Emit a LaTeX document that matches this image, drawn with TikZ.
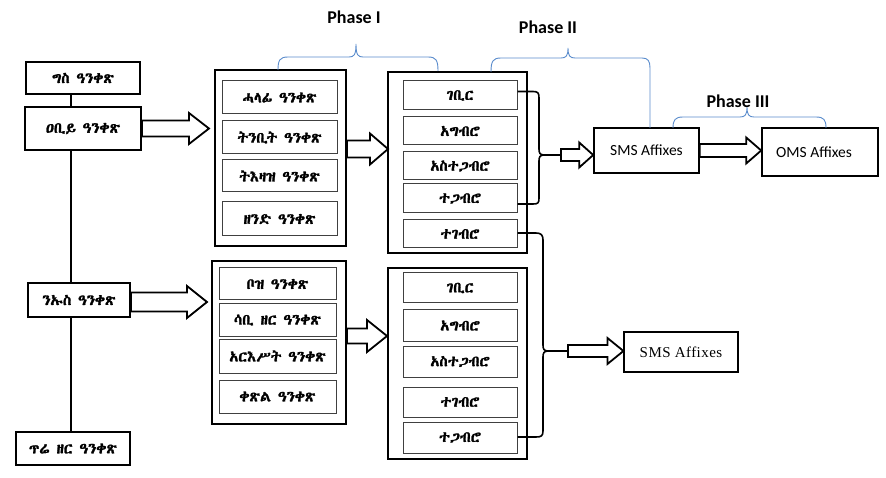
\documentclass[tikz,border=0pt]{standalone}
\usepackage{fontspec}
\setmainfont{Carlito}
\newfontfamily\serifaff{Liberation Serif}[LetterSpace=3]
\newif\ifethfound
\newcommand\tryeth[1]{%
  \ifethfound\else
    \IfFontExistsTF{#1}{%
      \newfontfamily\ethtest{#1}%
      \setbox0\hbox{\ethtest\iffontchar\font"1200 \global\ethfoundtrue\fi}%
      \ifethfound\newfontfamily\eth{#1}[FakeBold=1.8]\fi
    }{}%
  \fi}
\tryeth{Abyssinica SIL}
\tryeth{FreeSerif}
\tryeth{FreeSerif.otf}
\tryeth{FreeSans}
\tryeth{Noto Sans Ethiopic}
\tryeth{Noto Serif Ethiopic}
\ifethfound\else\newfontfamily\eth{DejaVu Sans}\fi
\usetikzlibrary{calc}
\newcommand\blockarrow[6][]{%
  \draw[barrow,#1] let \p1=#2, \p2=#3 in
    (\x1,{\y1+#4pt}) -- ({\x2-#6pt},{\y1+#4pt}) -- ({\x2-#6pt},{\y1+#5pt}) --
    (\x2,\y1) -- ({\x2-#6pt},{\y1-#5pt}) -- ({\x2-#6pt},{\y1-#4pt}) --
    (\x1,{\y1-#4pt}) -- cycle;}
\tikzset{
  wh/.style 2 args={minimum width=#1pt, minimum height=#2pt},
  ethfont/.style={font=\eth\fontsize{15}{17}\selectfont},
  leftbox/.style={draw, line width=2pt, fill=white, inner sep=0pt, ethfont},
  outer/.style={draw, line width=2pt, inner sep=0pt},
  inbox/.style={draw=black!75, line width=1pt, fill=white, inner sep=0pt, ethfont},
  affbox/.style={draw, line width=1.6pt, inner sep=0pt, font=\fontsize{15.5}{18}\selectfont},
  serbox/.style={draw, line width=1.1pt, inner sep=0pt, font=\serifaff\fontsize{15}{18}\selectfont},
  barrow/.style={draw, line width=1.8pt, fill=white, line join=miter},
  spinel/.style={line width=2pt},
  bluebrace/.style={draw={rgb,255:red,91;green,141;blue,205}, line width=0.9pt},
  bracket/.style={line width=1.6pt},
  phase/.style={font=\bfseries\fontsize{18}{20}\selectfont, inner sep=0pt}
}
\begin{document}
\begin{tikzpicture}[x=1pt,y=-1pt]
\useasboundingbox[fill=white] (0,0) rectangle (886,478);
\coordinate (spine) at (71,0);
% left column
\node[leftbox, wh={114}{32}] (gis) at (83,78) {ግስ ዓንቀጽ};
\node[leftbox, wh={116}{43}] (ebiy) at (83,128.5) {ዐቢይ ዓንቀጽ};
\node[leftbox, wh={102}{34}] (nius) at (79,300) {ንኡስ ዓንቀጽ};
\node[leftbox, wh={114}{33}] (tire) at (73,448.5) {ጥሬ ዘር ዓንቀጽ};
\draw[spinel] (gis.south -| spine) -- (ebiy.north -| spine);
\draw[spinel] (ebiy.south -| spine) -- (nius.north -| spine);
\draw[spinel] (nius.south -| spine) -- (tire.north -| spine);
% phase I boxes
\node[outer, wh={131}{176}] (p1top) at (280.5,158) {};
\node[inbox, wh={115}{33}] (halafi) at (279.5,97.5) {ሓላፊ ዓንቀጽ};
\node[inbox, wh={115}{33}] (tnbit) at (279.5,137.5) {ትንቢት ዓንቀጽ};
\node[inbox, wh={115}{32}] (tzaz) at (279.5,176) {ትእዛዝ ዓንቀጽ};
\node[inbox, wh={115}{34}] (zend) at (279.5,219) {ዘንድ ዓንቀጽ};
\node[outer, wh={134}{163}] (p1bot) at (279,342.5) {};
\node[inbox, wh={117}{32}] (boz) at (277.5,284) {ቦዝ ዓንቀጽ};
\node[inbox, wh={117}{32}] (sabi) at (277.5,320) {ሳቢ ዘር ዓንቀጽ};
\node[inbox, wh={117}{34}] (arest) at (277.5,356) {አርእሥት ዓንቀጽ};
\node[inbox, wh={117}{33}] (qetsl) at (277.5,396.5) {ቀጽል ዓንቀጽ};
% phase II boxes
\node[outer, wh={139}{181}] (p2top) at (457.5,162.5) {};
\node[inbox, wh={114}{29}] (gebir) at (460,95.5) {ገቢር};
\node[inbox, wh={114}{28}] (agbro) at (460,131) {አግብሮ};
\node[inbox, wh={114}{28}] (astegabro) at (460,166) {አስተጋብሮ};
\node[inbox, wh={114}{29}] (tegabro) at (460,198.5) {ተጋብሮ};
\node[inbox, wh={114}{28}] (tegebro) at (460,234) {ተገብሮ};
\node[outer, wh={139}{191}] (p2bot) at (457.5,363.5) {};
\node[inbox, wh={114}{30}] (gebirb) at (460,288) {ገቢር};
\node[inbox, wh={114}{31}] (agbrob) at (460,325.5) {አግብሮ};
\node[inbox, wh={114}{31}] (astegabrob) at (460,361.5) {አስተጋብሮ};
\node[inbox, wh={114}{30}] (tegebrob) at (460,402) {ተገብሮ};
\node[inbox, wh={114}{31}] (tegabrob) at (460,437.5) {ተጋብሮ};
% affix boxes
\node[affbox, wh={105}{45}] (smstop) at (646.5,150.5) {SMS Affixes};
\node[affbox, wh={116}{48}] (oms) at (820,152) {\hspace*{-12pt}OMS Affixes};
\node[serbox, wh={114}{40}] (smsbot) at (681,352) {SMS Affixes};
% block arrows
\blockarrow{(ebiy.east)}{([xshift=-5pt]p1top.west)}{8}{15.5}{20}
\blockarrow{([yshift=-2pt]nius.east)}{([xshift=-4pt]p1bot.west)}{9.5}{16}{20}
\blockarrow{([yshift=9pt]p1top.east)}{([xshift=1pt]p2top.west)}{8.5}{15.5}{18}
\blockarrow{([yshift=6.5pt]p1bot.east)}{(p2bot.west)}{7.5}{16}{20}
\coordinate (b1cusp) at (544,155);
\coordinate (b1arrow) at (561,155);
\blockarrow{(b1arrow)}{(smstop.west)}{6}{12.5}{14}
\blockarrow{(smstop.east)}{(oms.west)}{6.5}{13}{15}
\coordinate (b2cusp) at (548,351);
\coordinate (b2arrow) at (568,351);
\blockarrow{(b2arrow)}{(smsbot.west)}{6}{13}{16}
% black brackets
\draw[bracket] ([yshift=4pt]gebir.east) -- (533,91.5) .. controls (538,91.5) and (539,93) .. (539,98)
  -- (539,149) .. controls (539,153) and (540,155) .. (b1cusp)
  .. controls (540,155) and (539,157) .. (539,161) -- (539,198)
  .. controls (539,203) and (538,204) .. (533,204) -- ([yshift=-5.5pt]tegabro.east);
\draw[bracket] (b1cusp) -- (b1arrow);
\draw[bracket] ([yshift=1pt]tegebro.east) -- (536,233) .. controls (541,233) and (543,235) .. (543,240)
  -- (543,345) .. controls (543,349) and (544,351) .. (b2cusp)
  .. controls (544,351) and (543,353) .. (543,357) -- (543,431)
  .. controls (543,436) and (541,437) .. (536,437) -- ([yshift=0.5pt]tegabrob.east);
\draw[bracket] (b2cusp) -- (b2arrow);
% blue braces
\draw[bluebrace] (278,70) .. controls (278,60) and (280,57) .. (288,57) -- (349,57)
  .. controls (354,57) and (356,55) .. (356,44) .. controls (356,55) and (358,57) .. (363,57)
  -- (428,57) .. controls (436,57) and (438,60) .. (438,71);
\draw[bluebrace] (491,72) .. controls (491,61) and (493,58) .. (501,58) -- (561,58)
  .. controls (566,58) and (568,56) .. (568,48) .. controls (568,56) and (570,58) .. (575,58)
  -- (642,58) .. controls (648,58) and (650,61) .. (650,68) -- (650,128);
\draw[bluebrace] (673,128) .. controls (673,120) and (675,117) .. (683,117) -- (740,117)
  .. controls (745,117) and (747,115) .. (747,107) .. controls (747,115) and (749,117) .. (754,117)
  -- (816,117) .. controls (824,117) and (826,120) .. (826,128);
% phase labels
\node[phase] (ph1) at (354,17) {Phase I};
\node[phase] (ph2) at (548,27) {Phase II};
\node[phase] (ph3) at (738,101) {Phase III};
\end{tikzpicture}
\end{document}
